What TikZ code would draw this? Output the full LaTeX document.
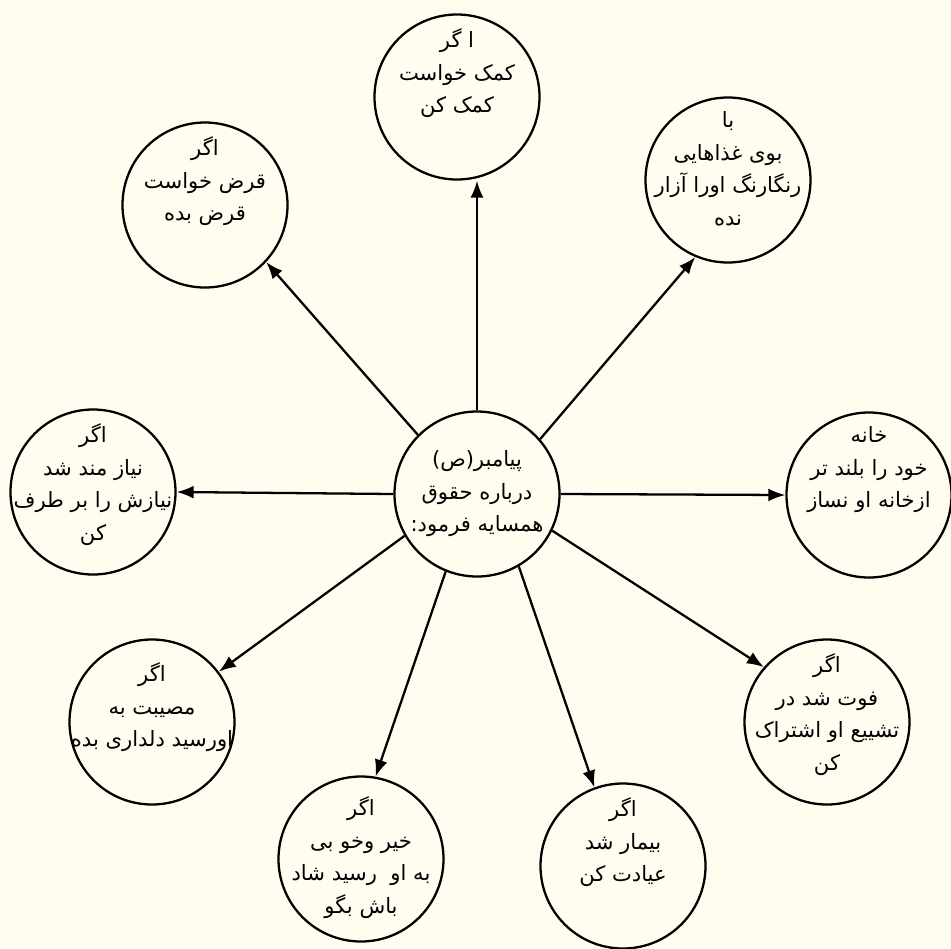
\documentclass[tikz,border=0pt]{standalone}
\usepackage{fontspec}
\usetikzlibrary{arrows.meta}
\usetikzlibrary{positioning}
\TeXXeTstate=1
\newfontfamily\farsi[Script=Arabic]{DejaVu Sans}
\newcommand{\fa}[1]{\beginR #1\endR}
\definecolor{paper}{HTML}{FFFDF0}
\tikzset{
  >={Latex[length=3.4mm,width=2.6mm]},
  node distance = 0.3cm,
  hadith/.style = {circle, draw, line width=1.3pt, minimum size=3.3cm, inner sep=0pt},
  words/.style = {inner sep=0pt, align=center, font=\farsi\fontsize{12}{18.5}\selectfont},
  link/.style = {->, line width=1.3pt},
}

\begin{document}
\begin{tikzpicture}
    \fill [paper] (0,0) rectangle (19.02,-18.96);
    \useasboundingbox (0,0) rectangle (19.02,-18.96);
    % circles
    \node [hadith] (c) at (9.54,-9.88) {};
    \node [hadith] (komak) at (9.14,-1.94) {};
    \node [hadith] (qarz) at (4.10,-4.10) {};
    \node [hadith] (bu) at (14.56,-3.60) {};
    \node [hadith] (niaz) at (1.86,-9.84) {};
    \node [hadith] (khane) at (17.38,-9.90) {};
    \node [hadith] (mosibat) at (3.04,-14.44) {};
    \node [hadith] (kheir) at (7.22,-17.18) {};
    \node [hadith] (bimar) at (12.46,-17.32) {};
    \node [hadith] (fot) at (16.54,-14.44) {};
    % texts, hung from the top of each circle
    \node [words] (c-t) at (c) {\fa{پیامبر(ص)}\\\fa{درباره حقوق}\\\fa{همسایه فرمود:}};
    \node [words, below = of komak.north] (komak-t) {\fa{ا گر}\\\fa{کمک خواست}\\\fa{کمک کن}};
    \node [words, below = of qarz.north] (qarz-t) {\fa{اگر}\\\fa{قرض خواست}\\\fa{قرض بده}};
    \node [words, below = of bu.north] (bu-t) {\fa{با}\\\fa{بوی غذاهایی}\\\fa{رنگارنگ اورا آزار}\\\fa{نده}};
    \node [words, below = of niaz.north] (niaz-t) {\fa{اگر}\\\fa{نیاز مند شد}\\\fa{نیازش را بر طرف}\\\fa{کن}};
    \node [words, below = of khane.north] (khane-t) {\fa{خانه}\\\fa{خود را بلند تر}\\\fa{ازخانه او نساز}};
    \node [words, below = 0.48cm of mosibat.north] (mosibat-t) {\fa{اگر}\\\fa{مصیبت به}\\\fa{اورسید دلداری بده}};
    \node [words, below = 0.42cm of kheir.north] (kheir-t) {\fa{اگر}\\\fa{خیر وخو بی}\\\fa{به او~ رسید شاد}\\\fa{باش بگو}};
    \node [words, below = of bimar.north] (bimar-t) {\fa{اگر}\\\fa{بیمار شد}\\\fa{عیادت کن}};
    \node [words, below = of fot.north] (fot-t) {\fa{اگر}\\\fa{فوت شد در}\\\fa{تشییع او اشتراک}\\\fa{کن}};
    % arrows
    \draw [link] (c.north) -- (c.north |- komak.south);
    \draw [link] (c.135) -- (qarz.-43);
    \draw [link] (c.41) -- (bu.-113);
    \draw [link] (c.west) -- (niaz.east);
    \draw [link] (c.east) -- (khane.west);
    \draw [link] (c.210) -- (mosibat.37);
    \draw [link] (c.248) -- (kheir.80);
    \draw [link] (c.-60) -- (bimar.110);
    \draw [link] (c.-26) -- (fot.139);
\end{tikzpicture}
\end{document}
